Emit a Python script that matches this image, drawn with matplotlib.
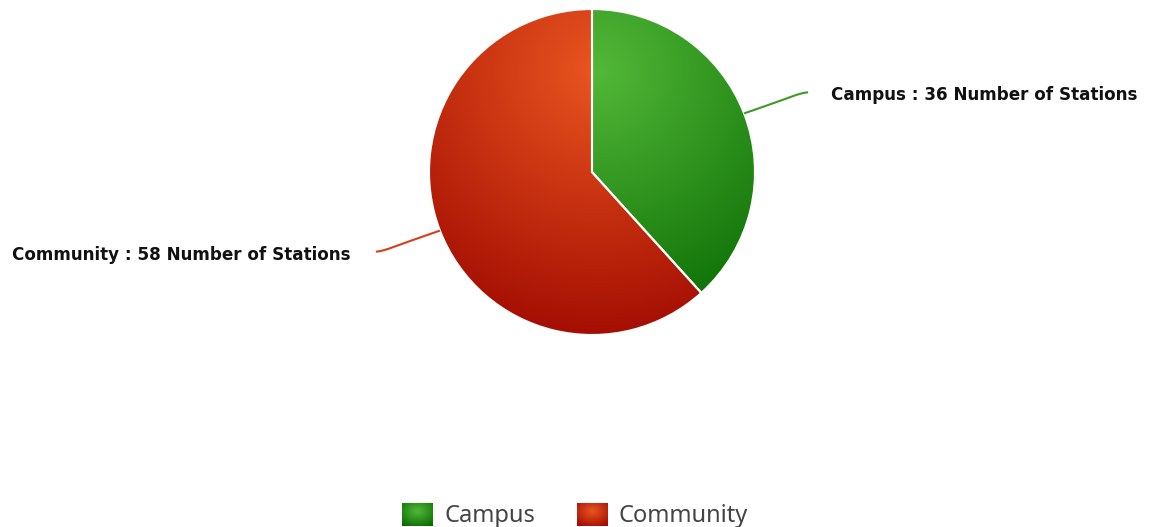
import numpy as np
import matplotlib
matplotlib.use("Agg")
import matplotlib.pyplot as plt
from matplotlib.path import Path
from matplotlib.patches import PathPatch
from matplotlib.colors import LinearSegmentedColormap

# datos
categorias = ["Campus", "Community"]
valores = [36, 58]
unidad = "Number of Stations"
colores_claros = ["#52b838", "#ea5520"]
colores_oscuros = ["#066800", "#9e0800"]
colores_linea = ["#3d9a2a", "#d2401c"]

W, H = 1156, 527
fig = plt.figure(figsize=(W / 100, H / 100), dpi=100)
ax = fig.add_axes([0, 0, 1, 1])

cx, cy, r = 592, 172, 163

# la escala y esta invertida, asi que counterclock=True dibuja en sentido horario en pantalla
wedges, _ = ax.pie(valores, center=(cx, cy), radius=r, startangle=-90,
                   counterclock=True, frame=True,
                   wedgeprops=dict(edgecolor="white", linewidth=1.5))
ax.set_aspect("equal")
ax.axis("off")

# gradiente radial
gx, gy, gr = 598, 70, 290
xs = np.linspace(cx - r, cx + r, 300)
ys = np.linspace(cy - r, cy + r, 300)
X, Y = np.meshgrid(xs, ys)
D = np.clip(np.hypot(X - gx, Y - gy) / gr, 0, 1)

for w, c1, c2 in zip(wedges, colores_claros, colores_oscuros):
    w.set_facecolor("none")
    cmap = LinearSegmentedColormap.from_list("g", [c1, c2])
    im = ax.imshow(D, cmap=cmap, extent=(cx - r, cx + r, cy + r, cy - r),
                   origin="upper", zorder=1, interpolation="bilinear", vmin=0, vmax=1)
    im.set_clip_path(w)
    w.set_zorder(2)

# etiquetas con lineas guia
total = sum(valores)
inicio = 0.0
for i, (cat, val) in enumerate(zip(categorias, valores)):
    frac = val / total
    medio = (inicio + frac / 2) * 2 * np.pi
    inicio += frac
    sx = cx + r * np.sin(medio)
    sy = cy - r * np.cos(medio)
    lado = 1 if np.sin(medio) > 0 else -1
    ex = sx + lado * 64
    ey = sy - 21 if lado > 0 else sy + 21
    mx = sx + lado * 46
    my = ey
    path = Path([(sx, sy), (mx, my + (sy - ey) * 0.25), (ex - lado * 8, ey), (ex, ey)],
                [Path.MOVETO, Path.CURVE4, Path.CURVE4, Path.CURVE4])
    ax.add_patch(PathPatch(path, fc="none", ec=colores_linea[i], lw=1.5, zorder=3))
    texto = f"{cat} : {val} {unidad}"
    if lado > 0:
        ax.text(ex + 23, ey + 3, texto, ha="left", va="center", fontsize=12.1,
                fontweight="bold", family="DejaVu Sans", color="#111111")
    else:
        ax.text(ex - 25, ey + 3, texto, ha="right", va="center", fontsize=12.1,
                fontweight="bold", family="DejaVu Sans", color="#111111")

# leyenda
lx = [402, 577]
for i, cat in enumerate(categorias):
    sw_x, sw_y, sw_w, sw_h = lx[i], 503, 31, 23
    cmap = LinearSegmentedColormap.from_list("l", [colores_claros[i], colores_oscuros[i]])
    sxs = np.linspace(-1, 1, 40)
    SX, SY = np.meshgrid(sxs, sxs)
    ax.imshow(np.hypot(SX, SY + 0.3) / 1.6, cmap=cmap, vmin=0, vmax=1,
              extent=(sw_x, sw_x + sw_w, sw_y + sw_h, sw_y), zorder=3)
    ax.text(sw_x + 42, 516, cat, ha="left", va="center", fontsize=17,
            family="Noto Sans", color="#444444")

ax.set_xlim(0, W)
ax.set_ylim(H, 0)
fig.savefig("out.png", dpi=100)
